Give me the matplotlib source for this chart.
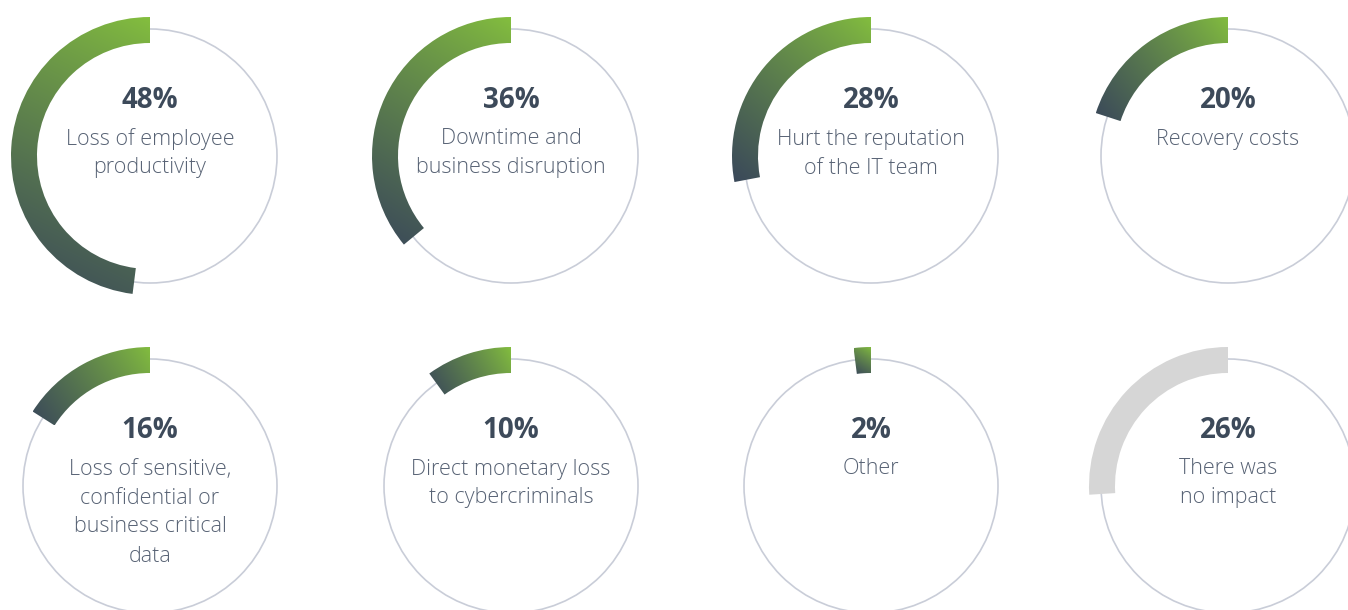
import numpy as np
import matplotlib.pyplot as plt
from matplotlib.patches import Wedge, Circle
from matplotlib.colors import to_rgb

# data
values = [48, 36, 28, 20, 16, 10, 2, 26]
pct_labels = ["48%", "36%", "28%", "20%", "16%", "10%", "2%", "26%"]
descriptions = [
    "Loss of employee\nproductivity",
    "Downtime and\nbusiness disruption",
    "Hurt the reputation\nof the IT team",
    "Recovery costs",
    "Loss of sensitive,\nconfidential or\nbusiness critical\ndata",
    "Direct monetary loss\nto cybercriminals",
    "Other",
    "There was\nno impact",
]
kinds = ["impact"] * 7 + ["none"]

W, H = 1348, 610
col_x = [150, 511, 871, 1228]
row_y = [156, 486]          # pixel rows, measured from the top
R_THIN = 127
R_OUT = 139
ARC_W = 26

green = np.array(to_rgb("#84bf3e"))
dark = np.array(to_rgb("#3a485a"))
grey_arc = "#d6d6d6"
ring_col = "#c9cdd8"
pct_col = "#3d4a5a"
txt_col = "#576274"
FONT = "Open Sans"

fig = plt.figure(figsize=(W / 100, H / 100), dpi=100)
ax = fig.add_axes([0, 0, 1, 1])
ax.set_xlim(0, W)
ax.set_ylim(0, H)
ax.set_aspect("equal")
ax.axis("off")


def gradient_arc(cx, cy, frac):
    t1 = 90
    t2 = 90 + 360 * frac / 100
    wedge = Wedge((cx, cy), R_OUT, t1, t2, width=ARC_W, lw=0, fc="none")
    ax.add_patch(wedge)
    # bounding box of the arc
    th = np.radians(np.linspace(t1, t2, 200))
    xs = np.concatenate([cx + R_OUT * np.cos(th), cx + (R_OUT - ARC_W) * np.cos(th)])
    ys = np.concatenate([cy + R_OUT * np.sin(th), cy + (R_OUT - ARC_W) * np.sin(th)])
    x0, x1, y0, y1 = xs.min(), xs.max(), ys.min(), ys.max()
    # linear gradient from top-right corner (green) to bottom-left (dark)
    n = 200
    gx, gy = np.meshgrid(np.linspace(x0, x1, n), np.linspace(y1, y0, n))
    vx, vy = x0 - x1, y0 - y1
    t = ((gx - x1) * vx + (gy - y1) * vy) / (vx * vx + vy * vy)
    t = np.clip(t, 0, 1) ** 0.85
    img = green[None, None, :] * (1 - t[..., None]) + dark[None, None, :] * t[..., None]
    im = ax.imshow(img, extent=(x0, x1, y0, y1), origin="upper",
                   interpolation="bilinear", zorder=3)
    im.set_clip_path(wedge)


for i, (v, p, d, k) in enumerate(zip(values, pct_labels, descriptions, kinds)):
    cx = col_x[i % 4]
    cy_pix = row_y[i // 4]
    cy = H - cy_pix
    ax.add_patch(Circle((cx, cy), R_THIN, fill=False, ec=ring_col, lw=1.2, zorder=2))
    if k == "none":
        ax.add_patch(Wedge((cx, cy), R_OUT, 90, 90 + 3.6 * v, width=ARC_W,
                           fc=grey_arc, lw=0, zorder=3))
    else:
        gradient_arc(cx, cy, v)
    ax.text(cx, H - (cy_pix - 55), p, ha="center", va="center",
            fontsize=20, fontweight="bold", color=pct_col, family=FONT)
    for j, line in enumerate(d.split("\n")):
        ax.text(cx, H - (cy_pix - 17 + 29 * j), line, ha="center", va="center",
                fontsize=15.5, fontweight=300, color=txt_col, family=FONT)

fig.savefig("out.png", dpi=100, facecolor="white")
